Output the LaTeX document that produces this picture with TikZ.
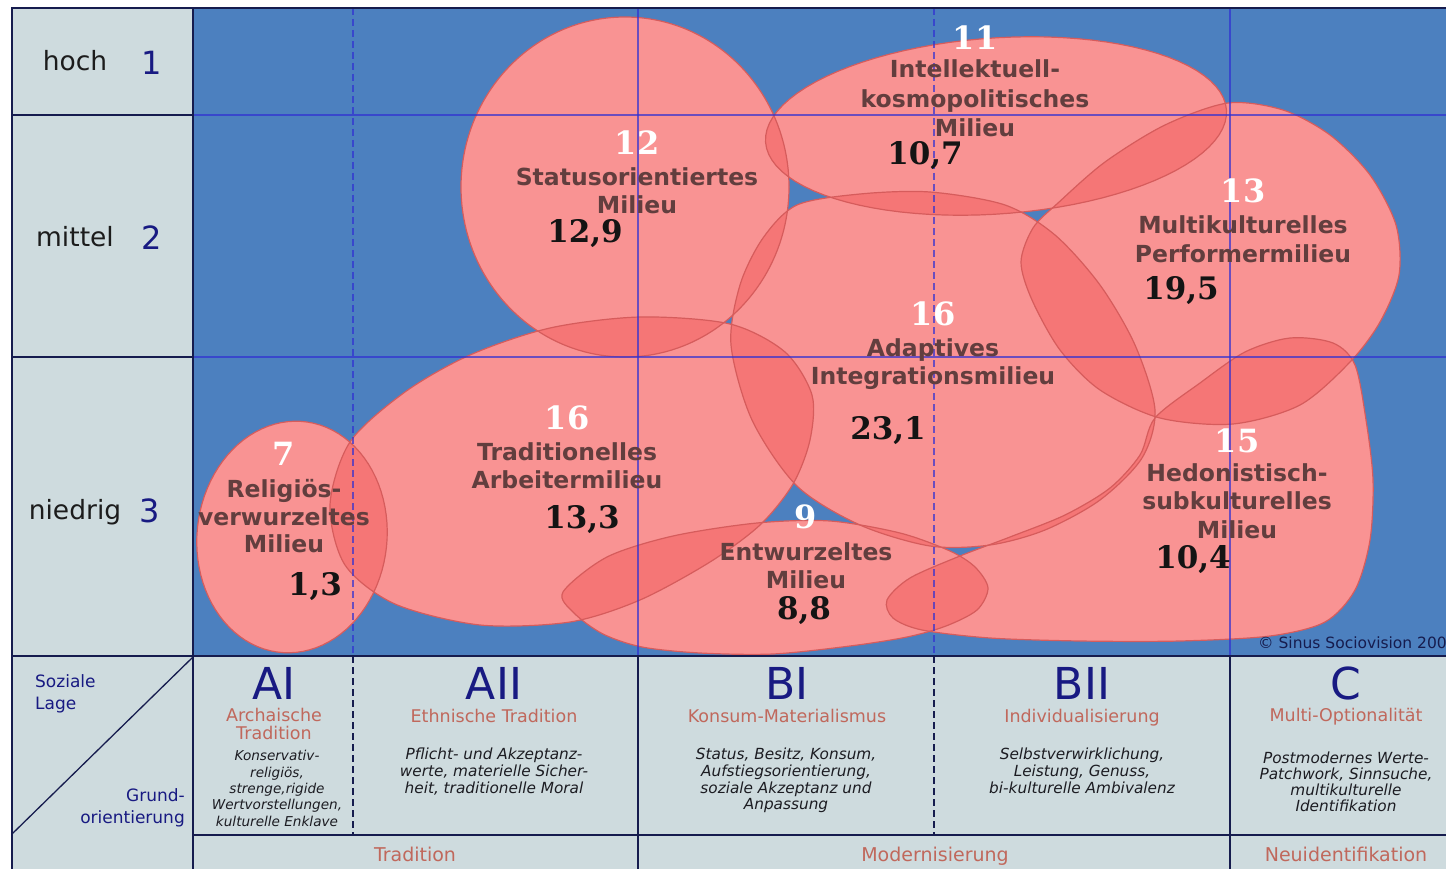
\documentclass[tikz,border=0pt]{standalone}
\usepackage{fontspec}
\setmainfont{DejaVu Sans}
\newfontfamily\numfont{DejaVu Serif}

\definecolor{plotblue}{RGB}{76,128,191}
\definecolor{cellgray}{RGB}{206,219,222}
\definecolor{framecol}{RGB}{22,28,78}
\definecolor{gridcol}{RGB}{48,48,210}
\definecolor{blobbasecol}{RGB}{255,194,194}
\definecolor{blobtintcol}{RGB}{240,70,70}
\definecolor{blobedgecol}{RGB}{214,92,92}
\definecolor{labelbrown}{RGB}{98,62,62}
\definecolor{navytext}{RGB}{24,26,130}
\definecolor{salmontext}{RGB}{192,104,92}
\definecolor{desctext}{RGB}{28,28,34}
\definecolor{rowtext}{RGB}{28,28,28}

% milieu outlines, in picture coordinates (y grows downwards)
\def\blobStatus{(625,187) ellipse (164 and 170)}
\def\blobIntel{plot[domain=0:360,samples=91,variable=\t] ({996+231*cos(\t)*cos(-4)-88*sin(\t)*sin(-4)},{126+231*cos(\t)*sin(-4)+88*sin(\t)*cos(-4)}) -- cycle}
\def\blobReli{plot[domain=0:360,samples=91,variable=\t] ({292+95*cos(\t)*cos(6)-116*sin(\t)*sin(6)},{537+95*cos(\t)*sin(6)+116*sin(\t)*cos(6)}) -- cycle}
\def\blobMulti{plot[smooth cycle] coordinates {(1228,103) (1283,110) (1330,135) (1370,175) (1396,225) (1399,275) (1380,322) (1350,362) (1300,405) (1233,424) (1160,418) (1100,390) (1060,350) (1032,300) (1021,262) (1033,228) (1058,203) (1105,162) (1165,125)}}
\def\blobAdapt{plot[smooth cycle] coordinates {(797,205) (860,194) (930,192) (1005,205) (1055,235) (1100,285) (1135,345) (1155,410) (1142,458) (1100,500) (1045,530) (990,545) (930,546) (860,525) (797,486) (752,420) (731,345) (740,285) (763,238)}}
\def\blobTrad{plot[smooth cycle] coordinates {(350,442) (405,392) (470,355) (550,328) (640,317) (730,324) (785,352) (812,395) (810,440) (793,484) (760,525) (710,562) (640,600) (570,622) (480,625) (395,604) (345,565) (330,505)}}
\def\blobEntw{plot[smooth cycle] coordinates {(563,592) (574,613) (603,634) (642,647) (700,653) (773,654) (850,646) (907,637) (946,626) (977,610) (988,588) (975,567) (950,551) (900,533) (830,521) (757,523) (673,536) (607,557)}}
\def\blobHedo{plot[smooth cycle] coordinates {(1155,418) (1200,383) (1245,352) (1290,338) (1333,343) (1355,365) (1366,420) (1373,480) (1370,540) (1355,590) (1325,622) (1270,636) (1180,641) (1080,641) (990,638) (922,630) (893,618) (887,600) (910,578) (960,556) (1010,537) (1065,515) (1110,488) (1140,455)}}

\begin{document}
\begin{tikzpicture}[x=1pt,y=-1pt,
  blobbase/.style={fill=blobbasecol},
  blobtint/.style={fill=blobtintcol,fill opacity=0.377},
  blobedge/.style={draw=blobedgecol,line width=1.2pt},
  gridline/.style={draw=gridcol,line width=1.1pt,opacity=0.7},
  gridlinedashed/.style={gridline,dash pattern=on 7pt off 4pt},
  frameline/.style={draw=framecol,line width=1.5pt},
  framelinedashed/.style={frameline,line width=1.2pt,dash pattern=on 7pt off 4pt},
  rowword/.style={font=\fontsize{26.5}{30}\selectfont,text=rowtext,anchor=base,inner sep=0pt},
  rownum/.style={font=\fontsize{32}{36}\selectfont,text=navytext,anchor=base,inner sep=0pt},
  blobtxt/.style={font=\bfseries\fontsize{23.5}{28}\selectfont,text=labelbrown,anchor=base,inner sep=0pt},
  whitenum/.style={font=\numfont\bfseries\fontsize{32}{32}\selectfont,text=white,anchor=base,inner sep=0pt},
  blacknum/.style={font=\numfont\bfseries\fontsize{31}{31}\selectfont,text=black!92,anchor=base,inner sep=0pt},
  colhead/.style={font=\fontsize{44}{44}\selectfont,text=navytext,anchor=base,inner sep=0pt},
  colsub/.style={font=\fontsize{17.5}{20}\selectfont,text=salmontext,anchor=base,inner sep=0pt},
  coldesc/.style={font=\itshape\fontsize{15.3}{17}\selectfont,text=desctext,anchor=base,inner sep=0pt},
  coldescsmall/.style={font=\itshape\fontsize{13.6}{16}\selectfont,text=desctext,anchor=base,inner sep=0pt},
  bandlab/.style={font=\fontsize{19}{22}\selectfont,text=salmontext,anchor=base,inner sep=0pt},
  axislab/.style={font=\fontsize{17}{20}\selectfont,text=navytext,inner sep=0pt}
]
\useasboundingbox (0,0) rectangle (1446,869);
\fill[white] (0,0) rectangle (1446,869);

% table cells
\fill[cellgray] (12,8) rectangle (193,869);
\fill[cellgray] (193,656) rectangle (1446,869);
\fill[plotblue] (193,8) rectangle (1446,656);

% milieus: opaque base, one tint layer each (overlaps get darker), outlines
\begin{scope}
\clip (193,8) rectangle (1446,656);
\fill[blobbase] \blobStatus;
\fill[blobbase] \blobIntel;
\fill[blobbase] \blobReli;
\fill[blobbase] \blobMulti;
\fill[blobbase] \blobAdapt;
\fill[blobbase] \blobTrad;
\fill[blobbase] \blobEntw;
\fill[blobbase] \blobHedo;
\fill[blobtint] \blobStatus;
\fill[blobtint] \blobIntel;
\fill[blobtint] \blobReli;
\fill[blobtint] \blobMulti;
\fill[blobtint] \blobAdapt;
\fill[blobtint] \blobTrad;
\fill[blobtint] \blobEntw;
\fill[blobtint] \blobHedo;
\draw[blobedge] \blobStatus;
\draw[blobedge] \blobIntel;
\draw[blobedge] \blobReli;
\draw[blobedge] \blobMulti;
\draw[blobedge] \blobAdapt;
\draw[blobedge] \blobTrad;
\draw[blobedge] \blobEntw;
\draw[blobedge] \blobHedo;
\end{scope}

% grid of the plot area
\draw[gridline] (193,115) -- (1446,115);
\draw[gridline] (193,357) -- (1446,357);
\draw[gridline] (638,8) -- (638,656);
\draw[gridline] (1230,8) -- (1230,656);
\draw[gridlinedashed] (353,8) -- (353,656);
\draw[gridlinedashed] (934,8) -- (934,656);

% table frame
\draw[frameline] (12,869) -- (12,8) -- (1446,8);
\draw[frameline] (193,8) -- (193,869);
\draw[frameline] (12,115) -- (193,115);
\draw[frameline] (12,357) -- (193,357);
\draw[frameline] (12,656) -- (1446,656);
\draw[frameline] (193,835) -- (1446,835);
\draw[frameline] (638,656) -- (638,869);
\draw[frameline] (1230,656) -- (1230,869);
\draw[framelinedashed] (353,656) -- (353,835);
\draw[framelinedashed] (934,656) -- (934,835);
\draw[frameline,line width=1.3pt] (193,657) -- (12,834);

% social position
\node[rowword] (hoch) at (75,71) {hoch};
\node[rownum] (lvlA) at (152,75) {1};
\node[rowword] (mittel) at (75,247) {mittel};
\node[rownum] (lvlB) at (152,250) {2};
\node[rowword] (niedrig) at (75,519) {niedrig};
\node[rownum] (lvlC) at (150,522) {3};

% milieu labels
\node[whitenum] (numIntel) at (975,50) {11};
\node[blobtxt] (intelA) at (975,78) {Intellektuell-};
\node[blobtxt] (intelB) at (975,108) {kosmopolitisches};
\node[blobtxt] (intelC) at (975,137) {Milieu};
\node[blacknum] (valIntel) at (925,165) {10,7};

\node[whitenum] (numStatus) at (637,155) {12};
\node[blobtxt] (statusA) at (637,186) {Statusorientiertes};
\node[blobtxt] (statusB) at (637,214) {Milieu};
\node[blacknum] (valStatus) at (585,243) {12,9};

\node[whitenum] (numMulti) at (1243,203) {13};
\node[blobtxt] (multiA) at (1243,234) {Multikulturelles};
\node[blobtxt] (multiB) at (1243,262) {Performermilieu};
\node[blacknum] (valMulti) at (1181,299) {19,5};

\node[whitenum] (numAdapt) at (933,325) {16};
\node[blobtxt] (adaptA) at (933,356) {Adaptives};
\node[blobtxt] (adaptB) at (933,384) {Integrationsmilieu};
\node[blacknum] (valAdapt) at (888,439) {23,1};

\node[whitenum] (numTrad) at (567,429) {16};
\node[blobtxt] (tradA) at (567,460) {Traditionelles};
\node[blobtxt] (tradB) at (567,488) {Arbeitermilieu};
\node[blacknum] (valTrad) at (582,528) {13,3};

\node[whitenum] (numReli) at (284,465) {7};
\node[blobtxt] (reliA) at (284,497) {Religiös-};
\node[blobtxt] (reliB) at (284,525) {verwurzeltes};
\node[blobtxt] (reliC) at (284,552) {Milieu};
\node[blacknum] (valReli) at (315,595) {1,3};

\node[whitenum] (numEntw) at (806,528) {9};
\node[blobtxt] (entwA) at (806,560) {Entwurzeltes};
\node[blobtxt] (entwB) at (806,588) {Milieu};
\node[blacknum] (valEntw) at (804,619) {8,8};

\node[whitenum] (numHedo) at (1237,452) {15};
\node[blobtxt] (hedoA) at (1237,481) {Hedonistisch-};
\node[blobtxt] (hedoB) at (1237,509) {subkulturelles};
\node[blobtxt] (hedoC) at (1237,538) {Milieu};
\node[blacknum] (valHedo) at (1193,568) {10,4};

\node[font=\fontsize{15.5}{17}\selectfont,text=framecol,anchor=base west,inner sep=0pt] (copy) at (1258,648) {© Sinus Sociovision 200};

% axis corner
\node[axislab,anchor=base west] (sozA) at (35,687) {Soziale};
\node[axislab,anchor=base west] (sozB) at (35,709) {Lage};
\node[axislab,anchor=base east] (grundA) at (185,801) {Grund-};
\node[axislab,anchor=base east] (grundB) at (185,823) {orientierung};

% basic orientations
\node[colhead] (hAI) at (274,699) {AI};
\node[colsub] (sAIa) at (274,721) {Archaische};
\node[colsub] (sAIb) at (274,739) {Tradition};
\node[coldescsmall] (dAIa) at (277,760) {Konservativ-};
\node[coldescsmall] (dAIb) at (277,777) {religiös,};
\node[coldescsmall] (dAIc) at (277,793) {strenge,rigide};
\node[coldescsmall] (dAId) at (277,809) {Wertvorstellungen,};
\node[coldescsmall] (dAIe) at (277,826) {kulturelle Enklave};

\node[colhead] (hAII) at (494,699) {AII};
\node[colsub] (sAII) at (494,722) {Ethnische Tradition};
\node[coldesc] (dAIIa) at (494,759) {Pflicht- und Akzeptanz-};
\node[coldesc] (dAIIb) at (494,776) {werte, materielle Sicher-};
\node[coldesc] (dAIIc) at (494,793) {heit, traditionelle Moral};

\node[colhead] (hBI) at (787,699) {BI};
\node[colsub] (sBI) at (787,722) {Konsum-Materialismus};
\node[coldesc] (dBIa) at (786,759) {Status, Besitz, Konsum,};
\node[coldesc] (dBIb) at (786,776) {Aufstiegsorientierung,};
\node[coldesc] (dBIc) at (786,793) {soziale Akzeptanz und};
\node[coldesc] (dBId) at (786,809) {Anpassung};

\node[colhead] (hBII) at (1082,699) {BII};
\node[colsub] (sBII) at (1082,722) {Individualisierung};
\node[coldesc] (dBIIa) at (1082,759) {Selbstverwirklichung,};
\node[coldesc] (dBIIb) at (1082,776) {Leistung, Genuss,};
\node[coldesc] (dBIIc) at (1082,793) {bi-kulturelle Ambivalenz};

\node[colhead] (hC) at (1346,699) {C};
\node[colsub] (sC) at (1346,721) {Multi-Optionalität};
\node[coldesc] (dCa) at (1346,763) {Postmodernes Werte-};
\node[coldesc] (dCb) at (1346,779) {Patchwork, Sinnsuche,};
\node[coldesc] (dCc) at (1346,795) {multikulturelle};
\node[coldesc] (dCd) at (1346,811) {Identifikation};

% bottom band
\node[bandlab] (bTrad) at (415,861) {Tradition};
\node[bandlab] (bMod) at (935,861) {Modernisierung};
\node[bandlab] (bNeu) at (1346,861) {Neuidentifikation};
\end{tikzpicture}
\end{document}
